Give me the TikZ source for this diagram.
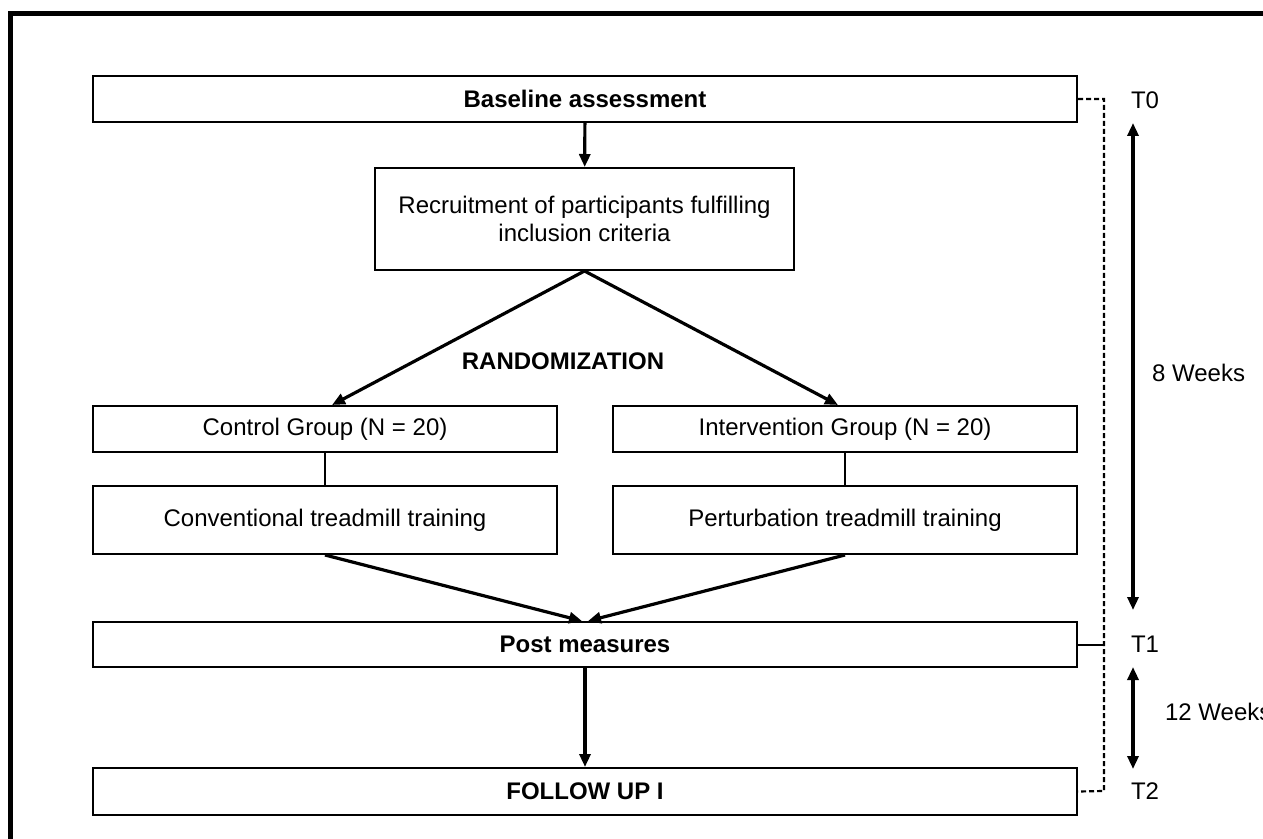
\documentclass[tikz,border=0pt]{standalone}
\usepackage{fontspec}
\setmainfont{Liberation Sans}
\usepackage{tikz}
\usepackage{xcolor}
\usetikzlibrary{arrows.meta}

\begin{document}
\begin{tikzpicture}[x=0.5pt,y=-0.5pt,
	font=\fontsize{12}{14}\selectfont,
	box/.style={draw,line width=1pt,inner sep=0pt,align=center},
	arr/.style={line width=1.6pt,-{Triangle[width=5.5pt,length=6.5pt]}},
	twoarr/.style={line width=1.6pt,{Triangle[width=5.5pt,length=6.5pt]}-{Triangle[width=5.5pt,length=6.5pt]}},
	dashline/.style={line width=1.1pt,dash pattern=on 2.5pt off 1.5pt}]
	\clip (0,0) rectangle (1263,839);
	\draw[line width=2.75pt] (10.5,839) -- (10.5,13.5) -- (1263,13.5);
	% boxes
	\node[box,minimum width=492pt,minimum height=23pt] (base) at (585,99) {\textbf{Baseline assessment}};
	\node[box,minimum width=209.5pt,minimum height=51pt] (rec) at (584.5,219) {Recruitment of participants fulfilling\\inclusion criteria};
	\node (rand) at (563,361) {\textbf{RANDOMIZATION}};
	\node[box,minimum width=232pt,minimum height=23pt] (ctrl) at (325,429) {Control Group (N = 20)};
	\node[box,minimum width=232pt,minimum height=23pt] (intv) at (845,429) {Intervention Group (N = 20)};
	\node[box,minimum width=232pt,minimum height=34pt] (conv) at (325,520) {Conventional treadmill training};
	\node[box,minimum width=232pt,minimum height=34pt] (pert) at (845,520) {Perturbation treadmill training};
	\node[box,minimum width=492pt,minimum height=22.5pt] (post) at (585,644.5) {\textbf{Post measures}};
	\node[box,minimum width=492pt,minimum height=23.5pt] (fup) at (585,791.5) {\textbf{FOLLOW UP I}};
	% flow
	\draw[arr] (base) -- (rec);
	\draw[arr] (rec.south) -- ([xshift=3.5pt]ctrl.north);
	\draw[arr] (rec.south) -- ([xshift=-3.5pt]intv.north);
	\draw[line width=1pt] (ctrl) -- (conv);
	\draw[line width=1pt] (intv) -- (pert);
	\draw[arr] (conv.south) -- ([xshift=-1.5pt]post.north);
	\draw[arr] (pert.south) -- ([xshift=1.5pt]post.north);
	\draw[arr] (post) -- (fup);
	% time line
	\coordinate (d0) at (1104,99);
	\coordinate (d2) at (1104,791);
	\draw[dashline] (base.east) -- (d0) -- (d2) -- (fup.east);
	\draw[line width=1pt] (post.east) -- (post.east -| d0);
	\node[anchor=west] (T0) at (1124,100) {T0};
	\node[anchor=west] (T1) at (1124,644) {T1};
	\node[anchor=west] (T2) at (1124,791) {T2};
	\coordinate (w8a) at (1133,123);
	\coordinate (w8b) at (1133,610);
	\coordinate (w12a) at (1133,667);
	\coordinate (w12b) at (1133,769);
	\draw[twoarr] (w8a) -- (w8b);
	\draw[twoarr] (w12a) -- (w12b);
	\node[anchor=west] (w8) at (1145,373) {8 Weeks};
	\node[anchor=west] (w12) at (1158,712) {12 Weeks};
\end{tikzpicture}
\end{document}
